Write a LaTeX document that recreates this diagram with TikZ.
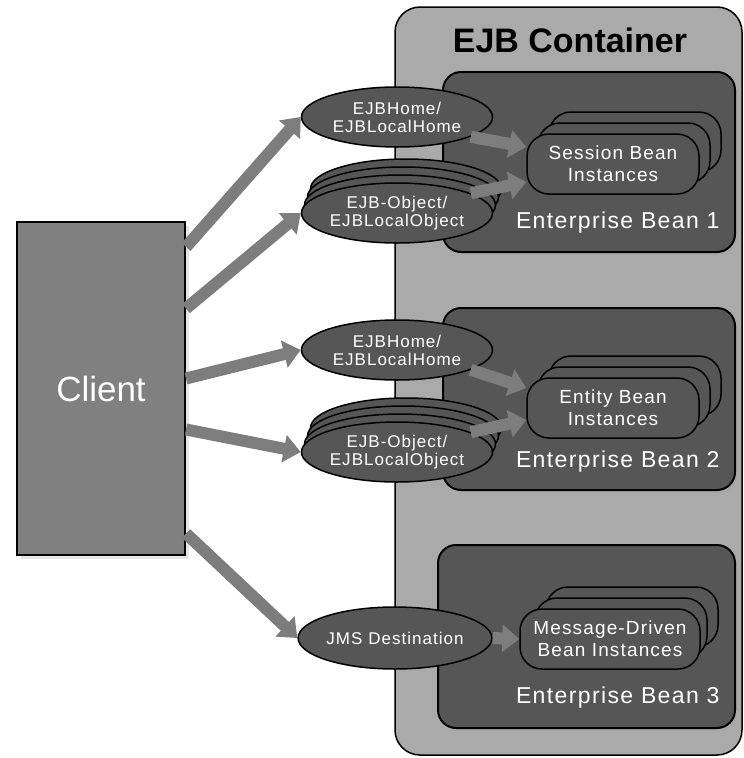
\documentclass[tikz,border=0pt]{standalone}
\usepackage{fontspec}
\setmainfont{Liberation Sans}
\newfontfamily\widefont[LetterSpace=6]{Liberation Sans}
\usepackage{tikz}
\usetikzlibrary{arrows.meta}
\usetikzlibrary{shapes}
\usetikzlibrary{shadows}
\usetikzlibrary{positioning}

\definecolor{clientgray}{HTML}{808080}
\definecolor{contgray}{HTML}{AAAAAA}
\definecolor{beangray}{HTML}{565656}
\definecolor{arrowgray}{HTML}{7D7D7D}

\begin{document}
\begin{tikzpicture}[x=1pt,y=-1pt]
            \tikzset{bean/.style={draw=black, line width=2pt, fill=beangray, rounded corners=18pt, inner sep=0pt,
                        drop shadow={shadow xshift=3pt, shadow yshift=-3pt, fill=black!35}},
                    inst/.style={draw=black, line width=1.5pt, fill=beangray, rounded corners=22pt,
                        minimum width=172pt, minimum height=60pt, inner sep=0pt, text=white, align=center,
                        font=\widefont\fontsize{19}{22}\selectfont},
                    iface/.style={ellipse, draw=black, line width=1.5pt, fill=beangray, minimum width=191pt,
                        minimum height=60pt, inner sep=0pt, text=white, align=center,
                        font=\widefont\fontsize{17}{18}\selectfont},
                    beanlabel/.style={text=white, anchor=east, font=\widefont\fontsize{23}{26}\selectfont},
                    >={Triangle[length=17pt, width=27pt]},
                    every edge/.style={draw=arrowgray, line width=12pt}}
            \useasboundingbox (0,0) rectangle (744,758);
            % container and beans
            \node[draw=black, line width=1.5pt, fill=contgray, rounded corners=25pt,
                minimum width=347pt, minimum height=748pt] (ctr) at (568.5,381) {};
            \node[font=\bfseries\fontsize{34}{40}\selectfont] (title) at (570,40) {EJB Container};
            \node[bean, minimum width=292pt, minimum height=180pt] (b1) at (589,162) {};
            \node[bean, minimum width=292pt, minimum height=182pt] (b2) at (589,399) {};
            \node[bean, minimum width=297pt, minimum height=183pt] (b3) at (586.5,636.5) {};
            \node[beanlabel] (l1) at (723,223) {Enterprise Bean 1};
            \node[beanlabel] (l2) at (723,462) {Enterprise Bean 2};
            \node[beanlabel] (l3) at (723,698) {Enterprise Bean 3};
            % bean instances
            \foreach \d in {22,11} {
                \node[inst] at (613+\d,164-\d) {};
                \node[inst] at (613+\d,408-\d) {};
                \node[inst] at (610+\d,639-\d) {};
            }
            \node[inst] (s1) at (613,164) {Session Bean\\Instances};
            \node[inst] (s2) at (613,408) {Entity Bean\\Instances};
            \node[inst, minimum width=180pt] (s3) at (610,639) {Message-Driven\\Bean Instances};
            % home, object and destination
            \node[iface] (h1) at (397,117) {EJBHome/\\EJBLocalHome};
            \node[iface] (h2) at (397,350) {EJBHome/\\EJBLocalHome};
            \foreach \d in {3,2,1} {
                \node[iface] at (397+3*\d,213-8*\d) {};
                \node[iface] at (397+3*\d,452-8*\d) {};
            }
            \node[iface] (o1) at (397,213) {EJB-Object/\\EJBLocalObject};
            \node[iface] (o2) at (397,452) {EJB-Object/\\EJBLocalObject};
            \node[iface, minimum width=185pt, minimum height=62pt] (jms) at (395,638) {JMS Destination};
            % client
            \node[draw=black, line width=2pt, fill=clientgray, minimum width=168pt, minimum height=333pt,
                drop shadow={shadow xshift=4pt, shadow yshift=-4pt, fill=black!20},
                text=white, font=\fontsize{35}{40}\selectfont] (c) at (101,388.5) {Client};
            % arrows
            \path [->] ([yshift=141.5pt]c.east) edge (h1.west);
            \path [->] ([yshift=80pt]c.east) edge (o1.west);
            \path [->] ([yshift=10pt]c.east) edge (h2.west);
            \path [->] ([yshift=-41pt]c.east) edge (o2.west);
            \path [->] ([yshift=-145pt]c.east) edge (jms.west);
            \path [->] (h1.-15) edge ([yshift=17pt]s1.west);
            \path [->] (o1.15) edge ([yshift=-18pt]s1.west);
            \path [->] (h2.-15) edge ([yshift=20pt]s2.west);
            \path [->] (o2.15) edge ([yshift=-12pt]s2.west);
            \path [->] (jms.east) edge (s3.west);
\end{tikzpicture}
\end{document}
